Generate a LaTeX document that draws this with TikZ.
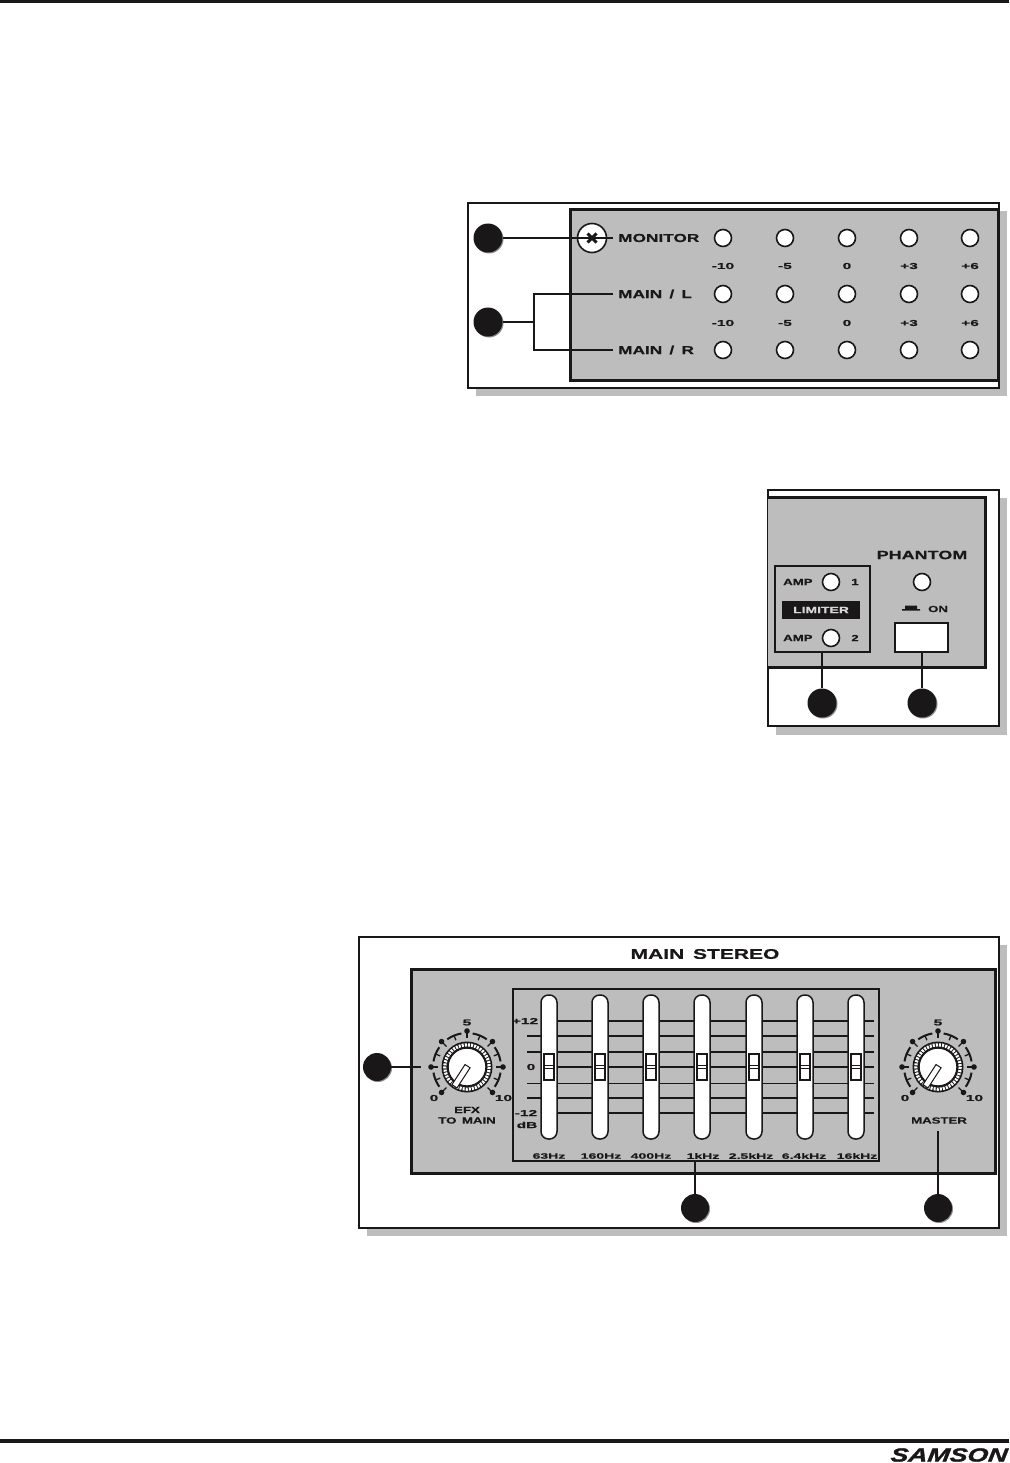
\documentclass[tikz,border=0pt]{standalone}
\usepackage{fontspec}
\usetikzlibrary{shadows}
\newfontfamily\widefont{Liberation Sans}[FakeStretch=1.5,WordSpace=1.5,BoldFeatures={FakeStretch=1.5,FakeBold=0.6}]
\newfontfamily\tinyfont{Liberation Sans}[FakeStretch=1.8,BoldFeatures={FakeStretch=1.8,FakeBold=0.6}]
\newfontfamily\logofont{Liberation Sans}[FakeStretch=1.4,BoldItalicFeatures={FakeStretch=1.4,FakeSlant=0.12,FakeBold=1.6}]
\definecolor{panelgray}{HTML}{BDBDBD}
\definecolor{ink}{HTML}{1A1718}
\tikzset{
  outerbox/.style={draw=ink,line width=2pt,fill=white},
  shadowbox/.style={fill=panelgray},
  innerbox/.style={draw=ink,line width=3pt,fill=panelgray},
  legend/.style={circle,fill=ink,inner sep=0pt,minimum size=29pt,
     general shadow={fill=black!45,shadow xshift=1pt,shadow yshift=-1pt}},
  led/.style={circle,draw=ink,line width=1.6pt,fill=white,inner sep=0pt,minimum size=17pt},
  wire/.style={draw=ink,line width=1.7pt},
  big/.style={font=\widefont\bfseries\fontsize{11.5}{12}\selectfont,text=ink,inner sep=0pt},
  mid/.style={font=\widefont\bfseries\fontsize{8.8}{9}\selectfont,text=ink,inner sep=0pt},
  small/.style={font=\tinyfont\bfseries\fontsize{8.6}{9}\selectfont,text=ink,inner sep=0pt},
  eqlab/.style={font=\tinyfont\bfseries\fontsize{7.8}{8}\selectfont,text=ink,inner sep=0pt},
  slider/.style={draw=ink,line width=1.5pt,fill=white,rounded corners=7.5pt},
  thumbbox/.style={draw=ink,line width=1.8pt,fill=white},
}
\newcommand{\drawknob}[3]{%
  \begin{scope}[shift={(#1,#2)}]
    \foreach \a in {135,180,225,270,315,0,45}{
      \draw[ink,line width=1.3pt] (\a:29) -- (\a:36);
      \fill[ink] (\a:36) circle (2.8);
    }
    \foreach \a in {157.5,202.5,247.5,292.5,337.5,22.5}{
      \draw[ink,line width=2pt] ({\a-13}:34) arc[start angle={\a-13},end angle={\a+13},radius=34];
      \draw[ink,line width=1.3pt] (\a:34) -- (\a:29);
    }
    \fill[ink] (0,0) circle (25.5);
    \draw[white,line width=3.2pt,dash pattern=on 2pt off 1.1pt] (0,0) circle (22.2);
    \draw[ink,line width=1pt,fill=white] (0,0) circle (18.8);
    \draw[ink,line width=1pt,fill=white,rotate=-33] (-3,-1) rectangle (3,23);
    \coordinate (#3) at (0,0);
  \end{scope}}
\begin{document}
\begin{tikzpicture}[x=1pt,y=-1pt]
\useasboundingbox (0,0) rectangle (1009,1463);
\fill[white] (0,0) rectangle (1009,1463);
\fill[ink] (0,0) rectangle (1009,3.5);
\fill[ink] (0,1439) rectangle (1009,1443);
\node[font=\logofont\bfseries\itshape\fontsize{19}{19}\selectfont,text=ink,inner sep=0pt,anchor=east] (logo) at (1007,1455) {SAMSON};

%% ---------- panel 1
\fill[shadowbox] (476,211) rectangle (1007,396);
\draw[outerbox] (468,203) rectangle (999,388);
\draw[innerbox] (570,209.5) rectangle (998,380);
\node[circle,draw=ink,line width=1.6pt,fill=white,inner sep=0pt,minimum size=29pt] (screw) at (592,238) {};
\draw[ink,line width=3pt] (587.5,233.5) -- (596.5,242.5) (596.5,233.5) -- (587.5,242.5);
\node[big,anchor=west] (mon) at (618,238) {MONITOR};
\node[big,anchor=west] (ml) at (618,294) {MAIN / L};
\node[big,anchor=west] (mr) at (618,350) {MAIN / R};
\foreach \x/\t [count=\i] in {723/-10,785/-5,847/0,909/+3,970/+6}{
  \node[led] (a\i) at (\x,238) {};
  \node[led] (b\i) at (\x,294) {};
  \node[led] (c\i) at (\x,350) {};
  \node[small] (s\i) at (\x,266) {\t};
  \node[small] (t\i) at (\x,323) {\t};
}
\node[legend] (l1) at (488,238) {};
\node[legend] (l2) at (488,322) {};
\coordinate (brk) at (534,322);
\draw[wire] (l1.east) -- ([xshift=-5pt]mon.west);
\draw[wire] (l2.east) -- (brk);
\draw[wire] ([xshift=-5pt]ml.west) -| (brk) |- ([xshift=-5pt]mr.west);

%% ---------- panel 2
\fill[shadowbox] (776,498) rectangle (1007,735);
\draw[outerbox] (768,490) rectangle (999,726);
\fill[panelgray] (768,497) rectangle (985,667);
\draw[ink,line width=3pt] (768,497) -- (985,497) -- (985,667) -- (768,667);
\node[draw=ink,line width=1.5pt,minimum width=95pt,minimum height=86pt,inner sep=0pt] (limbox) at (822.5,609) {};
\node[mid,anchor=west] (amp1) at (783,582) {AMP};
\node[led] (la1) at (831,582) {};
\node[mid] (n1) at (855,582) {1};
\node[fill=ink,text=panelgray!60,font=\widefont\bfseries\fontsize{9.3}{10}\selectfont,minimum width=78pt,minimum height=18pt,inner sep=0pt] (lim) at (821,610) {LIMITER};
\node[mid,anchor=west] (amp2) at (783,638) {AMP};
\node[led] (la2) at (831,638) {};
\node[mid] (n2) at (855,638) {2};
\node[big,font=\widefont\bfseries\fontsize{12}{13}\selectfont] (ph) at (922,555) {PHANTOM};
\node[led] (pled) at (922,582) {};
\fill[ink] (902,609) -- (905,609) -- (905,605.5) -- (917,605.5) -- (917,609) -- (920,609) -- (920,610.5) -- (902,610.5) -- cycle;
\node[mid] (on) at (938,609) {ON};
\node[draw=ink,line width=1.5pt,fill=white,minimum width=53pt,minimum height=29pt,inner sep=0pt] (sw) at (921.5,637.5) {};
\node[legend] (l3) at (822,703) {};
\node[legend] (l4) at (922,703) {};
\draw[wire] (limbox.south -| l3.north) -- (l3.north);
\draw[wire] (sw.south -| l4.north) -- (l4.north);

%% ---------- panel 3
\fill[shadowbox] (367,945) rectangle (1007,1236);
\draw[outerbox] (359,937) rectangle (998.5,1228);
\draw[innerbox] (411,969.5) rectangle (995,1173.5);
\node[big,font=\widefont\bfseries\fontsize{14}{15}\selectfont] (title) at (705,954) {MAIN STEREO};
\node[draw=ink,line width=1.5pt,minimum width=366pt,minimum height=172pt,inner sep=0pt] (eq) at (696,1075) {};
% grid lines
\foreach \y/\w/\s in {1021/1.5/557,1036/1.5/527,1052/1.5/527,1067/1.5/557,1083/.8/527,1098/1.5/527,1113/2.4/557}{
  \draw[ink,line width=\w pt] (\s,\y) -- (874,\y);
}
\foreach \x [count=\i] in {549,600,651,702,754,805,856}{
  \node[slider,minimum width=16pt,minimum height=144pt,inner sep=0pt] (sl\i) at (\x,1067) {};
  \node[thumbbox,minimum width=10pt,minimum height=26pt,inner sep=0pt] (th\i) at (\x,1067) {};
  \draw[ink,line width=1pt] (th\i.west) ++(0,-1.3) -- ++(10,0) ++(-10,2.6) -- ++(10,0);
}
\foreach \x/\t in {549/63Hz,601/160Hz,651/400Hz,703/1kHz,751/2.5kHz,804/6.4kHz,857/16kHz}{
  \node[eqlab] at (\x,1156) {\t};
}
\node[small] (p12) at (525,1021) {+12};
\node[small] (z0) at (531,1067) {0};
\node[small] (m12) at (526,1113) {-12};
\node[small] (db) at (527,1125) {dB};
\drawknob{467}{1067}{kefx}
\drawknob{938}{1067}{kmas}
\foreach \cx/\nm in {467/e,938/m}{
  \node[small] (five\nm) at (\cx,1022.5) {5};
  \node[small] (zero\nm) at ({\cx-33},1098) {0};
  \node[small] (ten\nm) at ({\cx+36.5},1098) {10};
}
\node[mid] (efx) at (467,1110) {EFX};
\node[mid] (tomain) at (467,1120.5) {TO MAIN};
\node[mid] (master) at (939,1120.5) {MASTER};
\node[legend,minimum size=28pt] (l5) at (377,1067) {};
\node[legend,minimum size=28pt] (l6) at (695,1208) {};
\node[legend,minimum size=28pt] (l7) at (938,1208) {};
\coordinate (efxend) at (421,1067);
\coordinate (masend) at (938,1131);
\draw[wire] (l5.east) -- (efxend);
\draw[wire] (eq.south -| l6.north) -- (l6.north);
\draw[wire] (masend) -- (l7.north);
\end{tikzpicture}
\end{document}
